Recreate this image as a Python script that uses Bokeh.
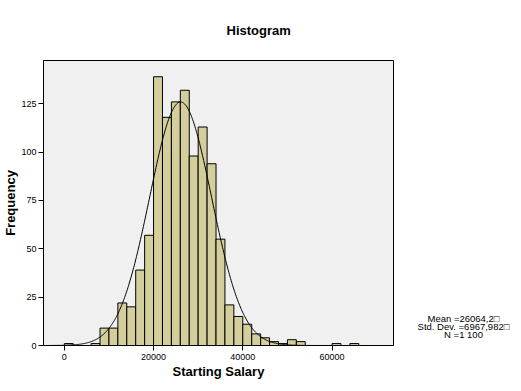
import numpy as np
from bokeh.plotting import figure
from bokeh.layouts import row
from bokeh.models import FixedTicker, Title
from bokeh.core.properties import value
from bokeh.embed import file_html
from bokeh.resources import INLINE

# ---- data ----
bin_width = 2000
bin_starts = [0, 2000, 4000, 6000, 8000, 10000, 12000, 14000, 16000, 18000,
              20000, 22000, 24000, 26000, 28000, 30000, 32000, 34000, 36000,
              38000, 40000, 42000, 44000, 46000, 48000, 50000, 52000, 54000,
              56000, 58000, 60000, 62000, 64000]
counts = [1, 0, 0, 1, 9, 9, 22, 20, 39, 57,
          139, 118, 126, 132, 98, 113, 94, 55, 21,
          15, 11, 6, 4, 2, 1, 3, 2, 0,
          0, 0, 1, 0, 1]
mean = 26064.2
std_dev = 6967.982
n_total = 1100
x_ticks = [0, 20000, 40000, 60000]
y_ticks = [0, 25, 50, 75, 100, 125]
stats_lines = ["Mean =26064,2\u25a1", "Std. Dev. =6967,982\u25a1", "N =1 100"]

FONT = "Liberation Sans"

p = figure(width=401, height=391, output_backend="svg", toolbar_location=None,
           x_range=(-4667, 73778), y_range=(0, 147.4),
           min_border_left=40, min_border_right=8,
           min_border_top=60, min_border_bottom=46,
           background_fill_color="#f0f0f0", border_fill_color="white",
           outline_line_color="black", outline_line_width=1)
p.grid.visible = False

t = Title(text="Histogram", align="left", offset=183, standoff=41,
          vertical_align="top",
          text_font=FONT, text_font_size="13px", text_font_style="bold",
          text_color="black")
p.add_layout(t, "above")

lefts = [s for s, c in zip(bin_starts, counts) if c > 0]
tops = [c for c in counts if c > 0]
rights = [s + bin_width for s in lefts]
p.quad(left=lefts, right=rights, bottom=0, top=tops,
       fill_color="#d3ce9b", line_color="black", line_width=1)

# fitted normal curve from the stated statistics
xs = np.linspace(-4000, 73000, 600)
ys = n_total * bin_width / (std_dev * np.sqrt(2 * np.pi)) * np.exp(-0.5 * ((xs - mean) / std_dev) ** 2)
p.line(xs, ys, line_color="black", line_width=1)

for ax in (p.xaxis[0], p.yaxis[0]):
    ax.axis_line_color = "black"
    ax.major_tick_line_color = "black"
    ax.major_tick_in = 0
    ax.major_tick_out = 5
    ax.minor_tick_line_color = None
    ax.major_label_text_font = FONT
    ax.major_label_text_font_size = "9px"
    ax.major_label_text_color = "black"
    ax.axis_label_text_font = FONT
    ax.axis_label_text_font_size = "13px"
    ax.axis_label_text_font_style = "bold"
    ax.axis_label_text_color = "black"

p.xaxis.ticker = FixedTicker(ticks=x_ticks)
p.yaxis.ticker = FixedTicker(ticks=y_ticks)
p.xaxis.major_label_standoff = 3
p.yaxis.major_label_standoff = 2
p.xaxis.axis_label = "Starting Salary"
p.xaxis.axis_label_standoff = 1
p.yaxis.axis_label = "Frequency"
p.yaxis.axis_label_standoff = 0

# side panel with the summary statistics (1 data unit = 1 px, y from page bottom)
s = figure(width=120, height=391, output_backend="svg", toolbar_location=None,
           x_range=(0, 120), y_range=(46, 331),
           min_border_left=0, min_border_right=0,
           min_border_top=60, min_border_bottom=46,
           outline_line_color=None, background_fill_color="white",
           border_fill_color="white")
s.axis.visible = False
s.grid.visible = False
s.text(x=[62, 62, 62], y=[73, 65, 57], text=stats_lines,
       text_align="center", text_baseline="alphabetic",
       text_font=value(FONT), text_font_size="9.5px", text_color="black")

layout = row(p, s, spacing=0)
open("out.html", "w").write(file_html(layout, INLINE))
